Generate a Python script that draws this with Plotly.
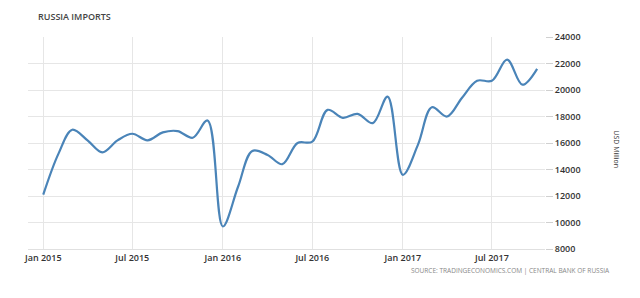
import plotly.graph_objects as go
import pandas as pd

months = pd.date_range("2015-01-01", "2017-10-01", freq="MS")
imports = [12100, 15200, 17000, 16200, 15300, 16200, 16700, 16200, 16800, 16900, 16400, 17700,
           9700, 12700, 15400, 15100, 14400, 16000, 16100, 18500, 17900, 18200, 17500, 19500,
           13600, 15900, 18700, 18000, 19400, 20700, 20700, 22300, 20400, 21600]
tick_vals = ["2015-01-01", "2015-07-01", "2016-01-01", "2016-07-01", "2017-01-01", "2017-07-01"]
tick_text = ["Jan 2015", "Jul 2015", "Jan 2016", "Jul 2016", "Jan 2017", "Jul 2017"]
y_ticks = list(range(8000, 24001, 2000))

fig = go.Figure()
fig.add_trace(go.Scatter(
    x=months, y=imports, mode="lines",
    line=dict(color="#4A84B8", width=2.2, shape="spline", smoothing=1.0),
    hoverinfo="skip"))

fig.update_layout(
    width=640, height=298,
    margin=dict(l=28, r=95, t=37, b=49),
    paper_bgcolor="white", plot_bgcolor="white",
    showlegend=False,
    font=dict(family="Open Sans", size=9, color="#333333"),
    xaxis=dict(
        range=["2014-12-01", "2017-10-17"],
        tickvals=tick_vals, ticktext=tick_text,
        showgrid=True, gridcolor="#E6E6E6", gridwidth=1,
        showline=True, linecolor="#E0E0E0", linewidth=1,
        ticks="", zeroline=False,
        tickfont=dict(family="Open Sans", size=9, color="#333333", weight=600),
    ),
    yaxis=dict(
        side="right", range=[8000, 24000],
        tickvals=y_ticks, ticktext=[str(v) for v in y_ticks],
        showgrid=True, gridcolor="#E6E6E6", gridwidth=1,
        ticks="outside", ticklen=7, tickcolor="#D0D0D0",
        zeroline=False, showline=False,
        tickfont=dict(family="Open Sans", size=9, color="#333333", weight=600),
    ),
    annotations=[
        dict(text="RUSSIA IMPORTS", xref="paper", yref="paper", x=0.0, y=1.0,
             xanchor="left", yanchor="bottom", yshift=12, xshift=8, showarrow=False,
             font=dict(family="Open Sans", size=9, color="#444444", weight=600)),
        dict(text="USD Million", xref="paper", yref="paper", x=1.0, y=0.47,
             xanchor="center", yanchor="middle", xshift=72, textangle=90, showarrow=False,
             font=dict(family="Open Sans", size=7, color="#333333")),
        dict(text="SOURCE: TRADINGECONOMICS.COM | CENTRAL BANK OF RUSSIA", xref="paper", yref="paper",
             x=1.0, y=0, xanchor="right", yanchor="top", xshift=67, yshift=-15, showarrow=False,
             font=dict(family="Open Sans", size=6.5, color="#888888")),
    ],
)

fig.write_html("out.html")
